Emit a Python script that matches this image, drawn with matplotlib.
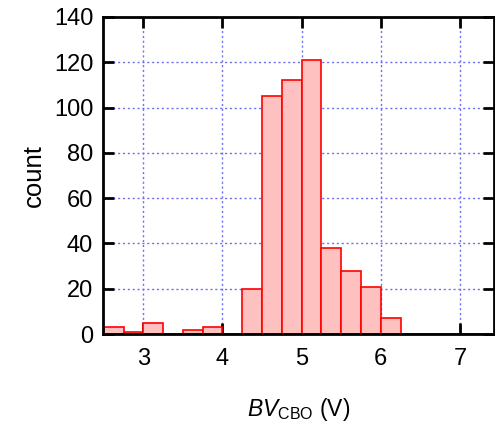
import numpy as np
import matplotlib
matplotlib.use("Agg")
import matplotlib.pyplot as plt

# --- data (bins of 0.25 V) ---
bin_left = [2.50, 2.75, 3.00, 3.25, 3.50, 3.75, 4.00, 4.25, 4.50, 4.75,
            5.00, 5.25, 5.50, 5.75, 6.00, 6.25, 6.50, 6.75, 7.00, 7.25]
counts = [3, 1, 5, 0, 2, 3, 0, 20, 105, 112,
          121, 38, 28, 21, 7, 0, 0, 0, 0, 0]
bin_width = 0.25

xticks = [3, 4, 5, 6, 7]
yticks = [0, 20, 40, 60, 80, 100, 120, 140]

plt.rcParams['font.family'] = ['Liberation Sans', 'DejaVu Sans']
plt.rcParams['mathtext.fontset'] = 'custom'
plt.rcParams['mathtext.rm'] = 'Liberation Sans'
plt.rcParams['mathtext.it'] = 'Liberation Sans:italic'

fig = plt.figure(figsize=(4.95, 4.24), dpi=100)
ax = fig.add_axes([0.208, 0.212, 0.79, 0.748])

ax.bar(bin_left, counts, width=bin_width, align='edge',
       color='#ffc0c0', edgecolor='#ff0000', linewidth=1.2, zorder=2)

ax.set_xlim(2.49, 7.43)
ax.set_ylim(0, 140)
ax.set_xticks(xticks)
ax.set_yticks(yticks)

ax.grid(True, color='#6f6ff0', linestyle=(0, (1.5, 2)), linewidth=1.0, zorder=0)
ax.set_axisbelow(True)

for s in ax.spines.values():
    s.set_linewidth(2)
ax.tick_params(direction='in', length=8, width=2, labelsize=17,
               top=True, right=True)
ax.tick_params(axis='x', pad=10)
ax.tick_params(axis='y', pad=7)

ax.set_ylabel('count', fontsize=18.5, labelpad=6)
ax.set_xlabel(r'$\mathit{BV}_{\mathrm{CBO}}$ (V)', fontsize=16.5, labelpad=19)

fig.savefig('out.png', dpi=100)
